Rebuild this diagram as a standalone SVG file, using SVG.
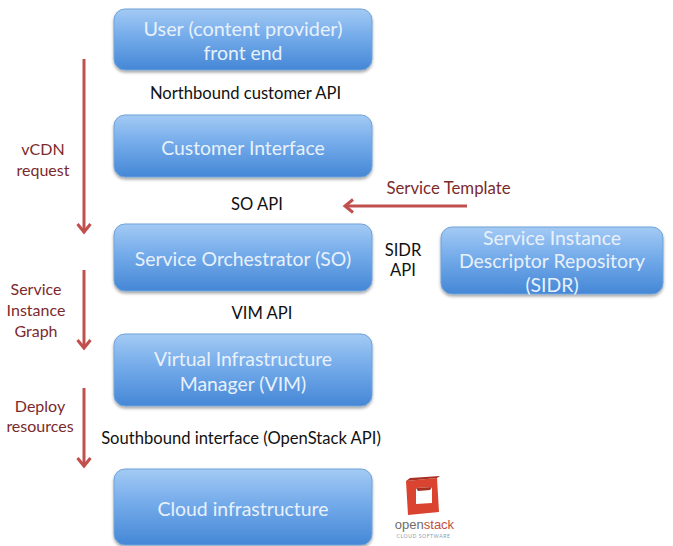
<svg xmlns="http://www.w3.org/2000/svg" width="673" height="546" viewBox="0 0 673 546">
<style>
text{font-family:Lato,"Open Sans","Liberation Sans",sans-serif;text-anchor:middle}
.b{fill:url(#g);stroke:#6fa3d8;stroke-width:1;filter:url(#s)}
.t{font-size:19.4px;fill:#e8f1fb}
.k{font-size:16.6px;fill:#111}
.r{font-size:16.8px;fill:#7b2a2c}
.l{font-size:16px;fill:#7b2a2c}
.c{fill:none;stroke:#c0504d;stroke-width:3}
</style>
<defs>
<linearGradient id="g" x1="0" y1="0" x2="0" y2="1"><stop offset="0" stop-color="#a3caf4"/><stop offset=".45" stop-color="#74abea"/><stop offset="1" stop-color="#4587d6"/></linearGradient>
<filter id="s" x="-5%" y="-10%" width="110%" height="125%"><feDropShadow dx="0" dy="2" stdDeviation="1.5" flood-color="#000" flood-opacity=".35"/></filter>
<marker id="a" markerUnits="userSpaceOnUse" markerWidth="16" markerHeight="16" refX="11" refY="8" orient="auto"><path d="M3 1.5L11 8L3 14.5" fill="none" stroke="#c0504d" stroke-width="3"/></marker>
</defs>
<rect width="673" height="546" fill="#fff"/>
<g id="connectors">
<path class="c" marker-end="url(#a)" d="M84 59V232"/>
<path class="c" marker-end="url(#a)" d="M84 270V348"/>
<path class="c" marker-end="url(#a)" d="M84 388V466"/>
<path class="c" marker-end="url(#a)" d="M467 206H345"/>
</g>
<g id="user"><rect class="b" x="114" y="9" width="258" height="61" rx="11"/><text class="t" x="243" y="36" style="font-size:19.8px">User (content provider)</text><text class="t" x="243" y="60">front end</text></g>
<g id="customer"><rect class="b" x="114" y="115" width="258" height="62" rx="11"/><text class="t" x="243" y="155">Customer Interface</text></g>
<g id="so"><rect class="b" x="114" y="224" width="258" height="67" rx="11"/><text class="t" x="243" y="266">Service Orchestrator (SO)</text></g>
<g id="vim"><rect class="b" x="114" y="334" width="258" height="72" rx="11"/><text class="t" x="243" y="366">Virtual Infrastructure</text><text class="t" x="243" y="391">Manager (VIM)</text></g>
<g id="cloud"><rect class="b" x="114" y="469" width="258" height="76" rx="11"/><text class="t" x="243" y="516">Cloud infrastructure</text></g>
<g id="sidr"><rect class="b" x="441" y="227" width="222" height="67" rx="11"/><text class="t" x="552" y="245">Service Instance</text><text class="t" x="552" y="268">Descriptor Repository</text><text class="t" x="552" y="292">(SIDR)</text></g>
<g id="labels">
<text class="k" x="245.500" y="99">Northbound customer API</text>
<text class="k" x="257" y="210">SO API</text>
<text class="k" x="403" y="256">SIDR</text>
<text class="k" x="403" y="276">API</text>
<text class="k" x="262" y="319">VIM API</text>
<text class="k" x="241" y="444">Southbound interface (OpenStack API)</text>
<text class="r" x="448.500" y="194">Service Template</text>
<text class="l" x="43" y="155">vCDN</text>
<text class="l" x="43" y="176">request</text>
<text class="l" x="36" y="295">Service</text>
<text class="l" x="36" y="316">Instance</text>
<text class="l" x="36" y="337">Graph</text>
<text class="l" x="40" y="412">Deploy</text>
<text class="l" x="40" y="432">resources</text>
</g>
<g id="openstack">
<path fill-rule="evenodd" fill="#d9432f" d="M406 481L437 478L439 512L408 515ZM416 488V504L432 503V487Z"/>
<path fill="#a92f22" d="M406 481L410 478L440 476L437 478ZM416 488L432 487L430 490L418 491Z"/>
<text x="424.500" y="529" style="font-size:13px;fill:#6d6d6d;font-family:'Liberation Sans',sans-serif">open<tspan fill="#c0503c">stack</tspan></text>
<text x="423.500" y="538" style="font-size:5px;fill:#8a9aa8;letter-spacing:.6px">CLOUD SOFTWARE</text>
</g>
</svg>
